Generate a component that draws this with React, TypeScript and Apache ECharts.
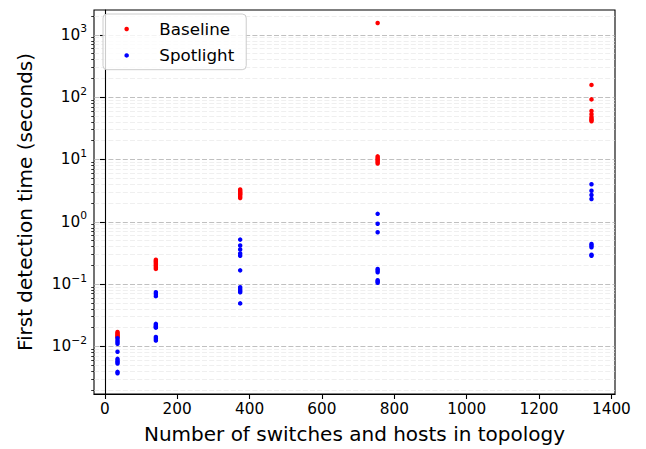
import React, { useEffect, useRef } from "react";
import * as echarts from "echarts";

const topologies = [35, 141, 374, 754, 1345];

const baselineTimes: number[][] = [
  [0.017, 0.0163, 0.0156, 0.015, 0.0145, 0.014],
  [0.245, 0.235, 0.225, 0.215, 0.205, 0.195, 0.185, 0.175],
  [3.3, 3.15, 3.0, 2.9, 2.8, 2.7, 2.55, 2.4],
  [1550, 11.2, 10.6, 10.1, 9.6, 9.1, 8.6],
  [157, 92, 60, 53, 48, 45, 43, 41],
];

const spotlightTimes: number[][] = [
  [0.0135, 0.0125, 0.0118, 0.011, 0.0082, 0.0063, 0.0059, 0.0056, 0.0053, 0.0039, 0.0037],
  [0.074, 0.069, 0.064, 0.023, 0.022, 0.021, 0.0205, 0.02, 0.0142, 0.0133, 0.0124],
  [0.517, 0.415, 0.358, 0.31, 0.285, 0.166, 0.089, 0.083, 0.078, 0.074, 0.049],
  [1.34, 0.93, 0.68, 0.175, 0.165, 0.155, 0.115, 0.11, 0.105],
  [4.0, 3.15, 2.69, 2.32, 0.44, 0.415, 0.39, 0.295, 0.285],
];

const xTicks = [0, 200, 400, 600, 800, 1000, 1200, 1400];
const yMajorTicks = [0.01, 0.1, 1, 10, 100, 1000];
const yMinorTicks = [
  0.002, 0.003, 0.004, 0.005, 0.006, 0.007, 0.008, 0.009,
  0.02, 0.03, 0.04, 0.05, 0.06, 0.07, 0.08, 0.09,
  0.2, 0.3, 0.4, 0.5, 0.6, 0.7, 0.8, 0.9,
  2, 3, 4, 5, 6, 7, 8, 9,
  20, 30, 40, 50, 60, 70, 80, 90,
  200, 300, 400, 500, 600, 700, 800, 900,
  2000,
];

const FONT = "DejaVu Sans";

function toPoints(groups: number[][]) {
  const pts: number[][] = [];
  groups.forEach((vals, i) => vals.forEach((v) => pts.push([topologies[i], v])));
  return pts;
}

export default function App() {
  const ref = useRef<HTMLDivElement>(null);
  useEffect(() => {
    if (!ref.current) return;
    const chart = echarts.init(ref.current, undefined, { renderer: "svg" });
    const yMin = Math.pow(10, -2.764);
    const yMax = Math.pow(10, 3.398);
    chart.setOption({
      animation: false,
      backgroundColor: "#fff",
      textStyle: { fontFamily: FONT },
      grid: {
        left: 94,
        right: 31,
        top: 10,
        bottom: 52,
        show: true,
        borderColor: "#000",
        borderWidth: 1.1,
        backgroundColor: "transparent",
      },
      legend: {
        orient: "vertical",
        left: 103,
        top: 14,
        padding: [5, 12, 4.3, 21.4],
        itemGap: 6.4,
        itemWidth: 4.5,
        itemHeight: 4.5,
        icon: "circle",
        borderColor: "#cccccc",
        borderWidth: 1,
        borderRadius: 4,
        backgroundColor: "rgba(255,255,255,0.8)",
        formatter: (name: string) => "{t|" + name + "}",
        textStyle: {
          fontFamily: FONT,
          fontSize: 16.7,
          color: "#000",
          lineHeight: 20,
          rich: {
            t: {
              fontFamily: FONT,
              fontSize: 16.7,
              color: "#000",
              lineHeight: 20,
              padding: [0, 0, 0, 25.4],
            },
          },
        },
        data: ["Baseline", "Spotlight"],
      },
      xAxis: {
        type: "value",
        min: -30,
        max: 1410,
        name: "Number of switches and hosts in topology",
        nameLocation: "middle",
        nameGap: 30,
        nameTextStyle: { fontFamily: FONT, fontSize: 20, color: "#000" },
        axisLine: { show: true, onZero: false, lineStyle: { color: "#000", width: 1.1 } },
        axisTick: {
          show: true,
          customValues: xTicks,
          length: 5,
          lineStyle: { color: "#000", width: 1.1 },
        },
        axisLabel: {
          customValues: xTicks,
          fontFamily: FONT,
          fontSize: 15.3,
          color: "#000",
          margin: 7,
          formatter: (v: number) => String(v),
        },
        splitLine: { show: false },
      },
      yAxis: [
        {
          type: "log",
          logBase: 10,
          min: yMin,
          max: yMax,
          name: "First detection time (seconds)",
          nameLocation: "middle",
          nameGap: 59,
          nameTextStyle: { fontFamily: FONT, fontSize: 20, color: "#000" },
          axisLine: { show: true, lineStyle: { color: "#000", width: 1.1 } },
          axisTick: {
            show: true,
            customValues: yMajorTicks,
            length: 5,
            lineStyle: { color: "#000", width: 1.1 },
          },
          axisLabel: {
            customValues: yMajorTicks,
            margin: 7,
            color: "#000",
            formatter: (v: number) => {
              const e = Math.round(Math.log10(v));
              const s = e < 0 ? "\u2212" + Math.abs(e) : String(e);
              return "{base|10}{sup|" + s + "}";
            },
            rich: {
              base: { fontFamily: FONT, fontSize: 15.3, color: "#000" },
              sup: { fontFamily: FONT, fontSize: 10.7, color: "#000", padding: [0, 0, 12, 0] },
            },
          },
          splitLine: {
            show: true,
            lineStyle: { color: "#b0b0b0", type: [5, 2.2], width: 0.8 },
          },
        },
        {
          type: "log",
          logBase: 10,
          min: yMin,
          max: yMax,
          position: "left",
          axisLine: { show: false },
          axisTick: {
            show: true,
            customValues: yMinorTicks,
            length: 2.8,
            lineStyle: { color: "#000", width: 0.8 },
          },
          axisLabel: { show: false, customValues: yMinorTicks },
          splitLine: {
            show: true,
            lineStyle: { color: "#e4e4e4", type: [5, 2.2], width: 0.6 },
          },
        },
      ],
      series: [
        {
          name: "Baseline",
          type: "scatter",
          yAxisIndex: 0,
          symbol: "circle",
          symbolSize: 4.5,
          itemStyle: { color: "#ff0000", opacity: 1 },
          data: toPoints(baselineTimes),
        },
        {
          name: "Spotlight",
          type: "scatter",
          yAxisIndex: 0,
          symbol: "circle",
          symbolSize: 4.5,
          itemStyle: { color: "#0000ff", opacity: 1 },
          data: toPoints(spotlightTimes),
        },
      ],
    });
    return () => chart.dispose();
  }, []);
  return (
    <div
      ref={ref}
      style={{ position: "absolute", left: 0, top: 0, width: 646, height: 449 }}
    />
  );
}
